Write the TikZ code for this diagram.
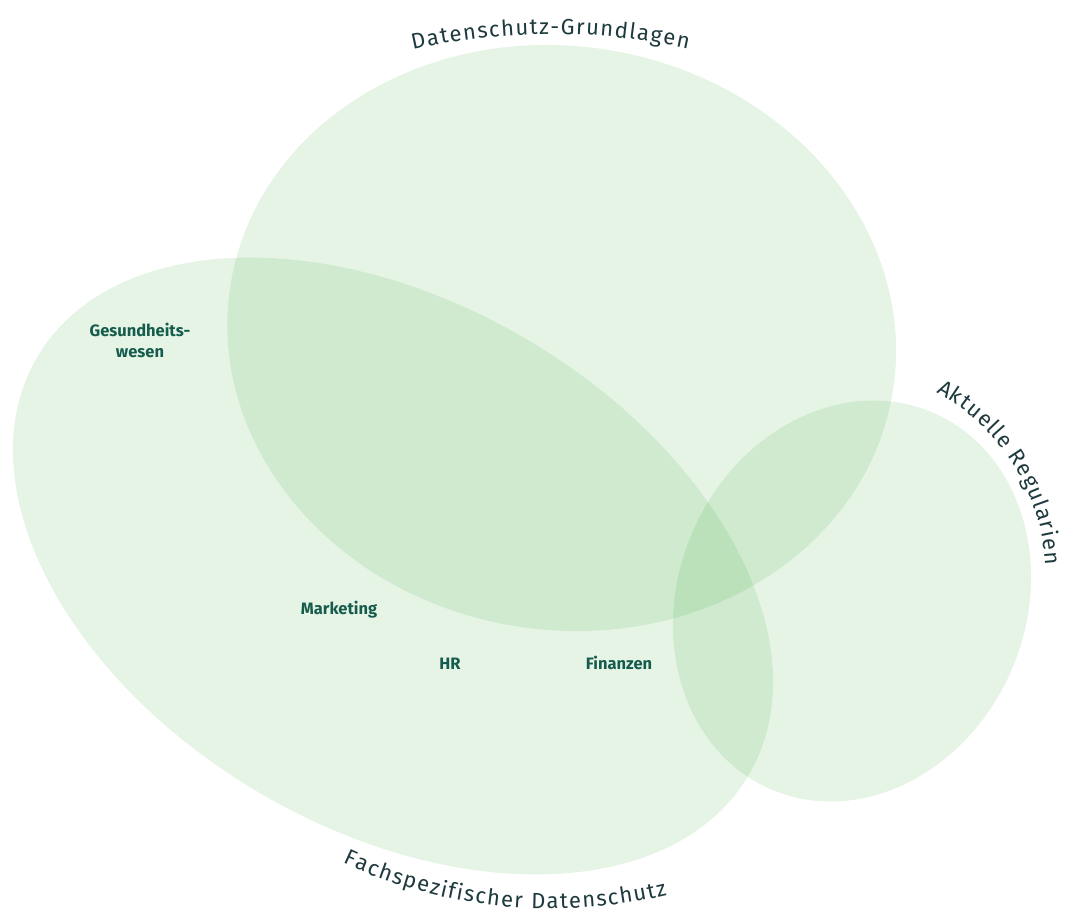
\documentclass[tikz,border=0pt]{standalone}
\usepackage{fontspec}
\setmainfont{Fira Sans}
\usetikzlibrary{decorations.text}
\definecolor{blobc}{RGB}{5,145,5}
\definecolor{tagc}{RGB}{22,92,76}
\definecolor{arcc}{RGB}{30,58,62}
\tikzset{
  blob/.style={fill=blobc, fill opacity=0.1, draw=none},
  tag/.style={font=\fontsize{16.5}{21}\selectfont\bfseries, text=tagc, align=center, inner sep=0pt},
  arclabel/.style={decorate, decoration={text along path, text align=fit to path,
     text={|\fontsize{22}{24}\selectfont\color{arcc}|#1}}}
}
\begin{document}
\begin{tikzpicture}[x=1pt,y=1pt]
\useasboundingbox (0,0) rectangle (1075,-914);
% circles
\path[blob] (561.7,-338) ellipse[x radius=335.4, y radius=291.8, rotate=-9.3];
\path[blob] (393,-566) ellipse[x radius=412.6, y radius=263.2, rotate=-30.4];
\path[blob] (852,-601) ellipse[x radius=173.8, y radius=205, rotate=-23.3];
% curved labels
\path[arclabel={Datenschutz-Grundlagen}] (413,-49.5) arc[start angle=102.7, end angle=77.6, radius=633];
\path[arclabel={Aktuelle Regularien}] (936.1,-392.1) arc[start angle=61.5, end angle=3.4, radius=210.9];
\path[arclabel={Fachspezifischer Datenschutz}] (342.7,-862.9) arc[start angle=245.2, end angle=283.5, radius=496.7];
% inner labels
\node[tag] (ges) at (140,-340) {Gesundheits-\\wesen};
\node[tag] (mkt) at (339,-610) {Marketing};
\node[tag] (hr) at (450,-664) {HR};
\node[tag] (fin) at (619,-663) {Finanzen};
\end{tikzpicture}
\end{document}
